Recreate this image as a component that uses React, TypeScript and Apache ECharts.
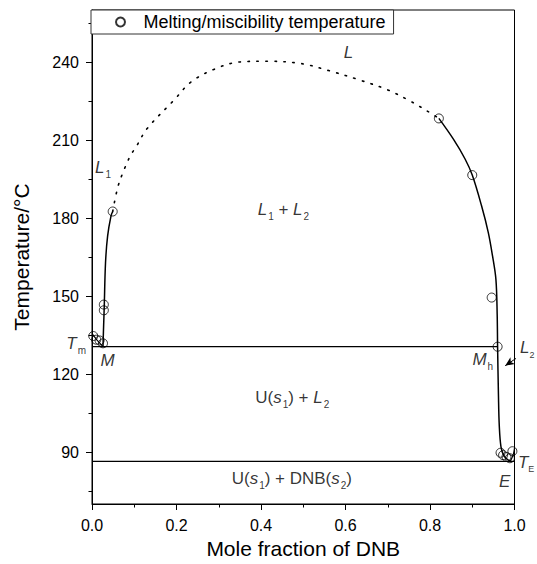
import React, { useEffect, useRef } from "react";
import * as echarts from "echarts";

// ---- data (mole fraction of DNB, temperature / °C) ----
const meltPoints: number[][] = [
  [0.049, 182.5], [0.028, 146.7], [0.028, 144.5],
  [0.003, 134.6], [0.010, 133.2], [0.018, 132.9], [0.026, 131.8],
  [0.821, 218.3], [0.900, 196.5], [0.946, 149.4], [0.960, 130.5],
  [0.967, 89.7], [0.973, 88.8], [0.981, 88.1], [0.989, 87.6], [0.995, 90.3],
];
const leftLiquidus: number[][] = [
  [0.026, 130.5], [0.027, 136], [0.028, 141], [0.029, 146], [0.032, 162.8],
  [0.037, 173.1], [0.045, 180.8], [0.049, 182.5],
];
const tmLiquidus: number[][] = [[0, 135.5], [0.012, 133], [0.026, 130.5]];
const domeDotted: number[][] = [
  [0.049, 182.5], [0.061, 191.8], [0.075, 198.2], [0.091, 204], [0.106, 207.8],
  [0.13, 214.3], [0.195, 225.5], [0.235, 232.4], [0.292, 237.4], [0.349, 240],
  [0.414, 240.3], [0.495, 239.4], [0.56, 236.7], [0.633, 233.1], [0.698, 229.4],
  [0.755, 224.8], [0.803, 220.2], [0.821, 218.3],
];
const rightLiquidus: number[][] = [
  [0.821, 218.3], [0.855, 210.4], [0.883, 202.7], [0.9, 196.5], [0.922, 184.7],
  [0.938, 174.4], [0.948, 165.4], [0.956, 156.4], [0.959, 143], [0.96, 130.5],
  [0.962, 112], [0.964, 100], [0.968, 92], [0.975, 88.5], [0.983, 87.2], [0.99, 86.4],
];
const teLiquidus: number[][] = [[1.0, 91.5], [0.997, 89], [0.99, 86.4]];
const monotecticLine: number[][] = [[0, 130.5], [0.96, 130.5]];
const eutecticLine: number[][] = [[0, 86.4], [1, 86.4]];
const arrowFrom = [1.022, 128.0];
const arrowTo = [0.978, 123.2];

const yMajorTicks = [90, 120, 150, 180, 210, 240];
const yMinorTicks = [75, 105, 135, 165, 195, 225, 255];

type Lbl = { text: string; x: number; y: number; align: "left" | "center" | "right" };
const annotations: Lbl[] = [
  { text: "{i|L}", x: 0.607, y: 243.5, align: "center" },
  { text: "{i|L}{sub|1}", x: 0.026, y: 199.5, align: "center" },
  { text: "{i|L}{sub|1}{n| + }{i|L}{sub|2}", x: 0.453, y: 183.3, align: "center" },
  { text: "{n|U(}{i|s}{sub|1}{n|) + }{i|L}{sub|2}", x: 0.474, y: 110.8, align: "center" },
  { text: "{n|U(}{i|s}{sub|1}{n|) + DNB(}{i|s}{sub|2}{n|)}", x: 0.473, y: 80, align: "center" },
  { text: "{i|T}{sub|m}", x: -0.014, y: 131.8, align: "right" },
  { text: "{i|M}", x: 0.037, y: 125.1, align: "center" },
  { text: "{i|M}{sub|h}", x: 0.925, y: 125.4, align: "center" },
  { text: "{i|L}{ssub|2}", x: 1.013, y: 130.1, align: "left" },
  { text: "{i|E}", x: 0.977, y: 78.8, align: "center" },
  { text: "{i|T}{ssub|E}", x: 1.008, y: 86.1, align: "left" },
];

const FONT = "'Liberation Sans', Arial, Helvetica, sans-serif";

function lineSeries(data: number[][], width = 1.5, extra: any = {}, lsExtra: any = {}) {
  return {
    type: "line",
    data,
    smooth: 0.35,
    symbol: "none",
    showSymbol: false,
    silent: true,
    z: 3,
    ...extra,
    lineStyle: { color: "#000", width, ...lsExtra },
  };
}

export default function App() {
  const ref = useRef<HTMLDivElement>(null);
  useEffect(() => {
    document.body.style.margin = "0";
    const chart = echarts.init(ref.current!, null, { renderer: "svg" });
    const rich = {
      i: { fontStyle: "italic", fontSize: 17, fontFamily: FONT, color: "#000" },
      n: { fontSize: 17, fontFamily: FONT, color: "#000" },
      sub: { fontSize: 10, fontFamily: FONT, color: "#000", padding: [14, 0, 0, 1] },
      ssub: { fontSize: 9, fontFamily: FONT, color: "#000", padding: [14, 0, 0, 0] },
    };
    chart.setOption({
      animation: false,
      backgroundColor: "#fff",
      grid: {
        left: 92, right: 22.5, top: 10, bottom: 59,
        show: true, borderColor: "#000", borderWidth: 1, backgroundColor: "transparent",
      },
      legend: {
        data: ["Melting/miscibility temperature"],
        left: 91, top: 10,
        padding: [3, 8, 3, 24],
        itemWidth: 10, itemHeight: 9,
        borderColor: "#333", borderWidth: 1, backgroundColor: "#fff",
        textStyle: { fontSize: 18, color: "#000", fontFamily: FONT, padding: [0, 0, 0, 13] },
        z: 10,
      },
      xAxis: {
        type: "value", min: 0, max: 1, interval: 0.2,
        name: "Mole fraction of DNB", nameLocation: "middle", nameGap: 34,
        nameTextStyle: { fontSize: 21, color: "#000", fontFamily: FONT },
        axisLine: { lineStyle: { color: "#000", width: 1 } },
        axisTick: { length: 6, lineStyle: { color: "#000" } },
        minorTick: { show: true, splitNumber: 2, length: 3.5, lineStyle: { color: "#000" } },
        axisLabel: { fontSize: 16, color: "#000", fontFamily: FONT, margin: 13, formatter: (v: number) => v.toFixed(1) },
        splitLine: { show: false },
      },
      yAxis: [
        {
          type: "value", min: 70, max: 260,
          name: "Temperature/°C", nameLocation: "middle", nameGap: 60, nameRotate: 90,
          nameTextStyle: { fontSize: 21, color: "#000", fontFamily: FONT },
          axisLine: { show: true, lineStyle: { color: "#000", width: 1 } },
          axisTick: { show: true, length: 6, customValues: yMajorTicks, lineStyle: { color: "#000" } },
          axisLabel: { fontSize: 16, color: "#000", fontFamily: FONT, margin: 13, customValues: yMajorTicks },
          splitLine: { show: false },
        },
        {
          type: "value", min: 70, max: 260, position: "left",
          axisLine: { show: false },
          axisTick: { show: true, length: 3.5, customValues: yMinorTicks, lineStyle: { color: "#000" } },
          axisLabel: { show: false },
          splitLine: { show: false },
        },
      ],
      series: [
        lineSeries(eutecticLine, 1.2, { smooth: false }),
        lineSeries(monotecticLine, 1.2, { smooth: false }),
        lineSeries(tmLiquidus, 1.2, { smooth: false }),
        lineSeries(leftLiquidus, 1.5),
        lineSeries(domeDotted, 1.6, {}, { type: [1.5, 7.5], cap: "round" }),
        lineSeries(rightLiquidus, 1.5),
        lineSeries(teLiquidus, 1.2),
        {
          type: "line",
          data: [
            { value: arrowFrom, symbol: "none" },
            { value: arrowTo, symbol: "arrow", symbolSize: [6, 9], symbolRotate: 124 },
          ],
          showSymbol: true,
          silent: true,
          clip: false,
          lineStyle: { color: "#000", width: 1 },
          itemStyle: { color: "#000" },
          z: 5,
        },
        {
          name: "Melting/miscibility temperature",
          type: "scatter",
          data: meltPoints,
          symbol: "circle",
          symbolSize: 9,
          itemStyle: { color: "rgba(255,255,255,0)", borderColor: "#000", borderWidth: 1 },
          z: 4,
        },
        {
          type: "scatter",
          silent: true,
          clip: false,
          symbolSize: 0,
          data: annotations.map((a) => ({
            value: [a.x, a.y],
            label: {
              show: true,
              position: "inside",
              align: a.align,
              verticalAlign: "middle",
              formatter: a.text,
              rich,
            },
          })),
          z: 6,
        },
      ],
    });
    return () => chart.dispose();
  }, []);
  return <div ref={ref} style={{ width: 537, height: 564 }} />;
}
